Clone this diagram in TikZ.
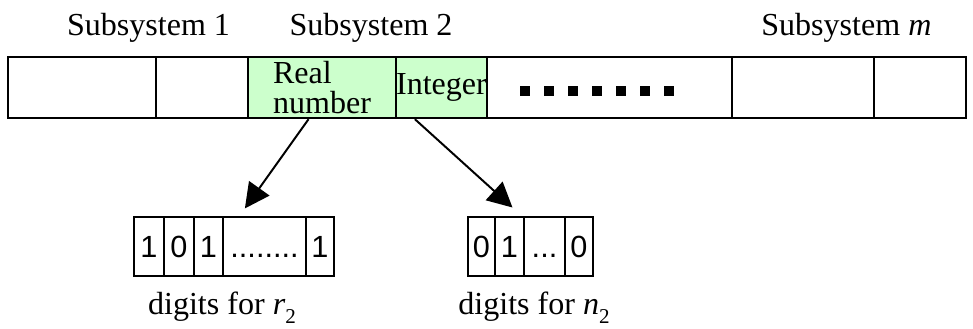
\documentclass[tikz,border=0pt]{standalone}
\usepackage{fontspec}
\setmainfont{Liberation Serif}
\setsansfont{Liberation Sans}
\usepackage{tikz}
\usetikzlibrary{arrows.meta,calc}
\definecolor{cellGreen}{HTML}{CCFFCC}
\newcommand\labelfont{\fontsize{22.8pt}{21.3pt}\selectfont}
\newcommand\bitfont{\sffamily\fontsize{21.8pt}{22pt}\selectfont}
\newcommand\lowsub[1]{\raisebox{-0.28em}{\fontsize{15pt}{15pt}\selectfont #1}}

\begin{document}
\begin{tikzpicture}[font=\labelfont,>={Triangle[length=0.62cm,width=0.62cm]},
  cell/.style={draw,line width=1.7pt,minimum height=1.525cm,inner sep=0pt},
  bit/.style={draw,line width=1.3pt,minimum height=1.46cm,inner sep=0pt,
    font=\bitfont,text height=0.55cm,text depth=0cm},
  sq/.style={fill=black,minimum size=0.25cm,inner sep=0pt},
  lbl/.style={anchor=base,inner sep=0pt},
  arr/.style={->,line width=1.4pt}]
\useasboundingbox (0,0) rectangle (24.325,8.225);
% --- the chromosome bar ---
\foreach \a/\b/\n in {0.2/3.9/c1,3.9/6.2/c2,12.175/18.3/c5,18.3/21.85/c6,21.85/24.15/c7}
  \node[cell,minimum width={(\b-\a)*1cm}] (\n) at ({(\a+\b)/2},6.0375) {};
\node[cell,fill=cellGreen,minimum width=3.7cm,align=left] (real) at (8.05,6.0375) {Real\\number};
\node[cell,fill=cellGreen,minimum width=2.275cm] (int) at (11.0375,6.0375) {Integer};
\foreach \k in {0,...,6} \node[sq] (dot\k) at ({13.125+0.6*\k},5.95) {};
% --- subsystem labels ---
\node[lbl] (sub1) at (3.7125,7.325) {Subsystem 1};
\node[lbl] (sub2) at (9.275,7.325) {Subsystem 2};
\node[lbl] (subm) at (21.16,7.325) {Subsystem \textit{m}};
% --- digit strings ---
\foreach \a/\b/\t [count=\i] in {3.35/4.1/1,4.1/4.85/0,4.85/5.575/1,5.575/7.65/{........},7.65/8.35/1}
  \node[bit,minimum width={(\b-\a)*1cm}] (r\i) at ({(\a+\b)/2},2.0625) {\t};
\foreach \a/\b/\t [count=\i] in {11.7/12.375/0,12.375/13.1/1,13.1/14.125/{...},14.125/14.825/0}
  \node[bit,minimum width={(\b-\a)*1cm}] (n\i) at ({(\a+\b)/2},2.0625) {\t};
\node[lbl] (rlbl) at (5.55,0.35) {digits for \textit{r}\lowsub{2}};
\node[lbl] (nlbl) at (13.35,0.35) {digits for \textit{n}\lowsub{2}};
% --- arrows ---
\draw[arr,shorten >=0.244cm] (real.247) -- (r4.130);
\draw[arr,shorten >=0.33cm] (int.230) -- (n2.67);
\end{tikzpicture}
\end{document}
